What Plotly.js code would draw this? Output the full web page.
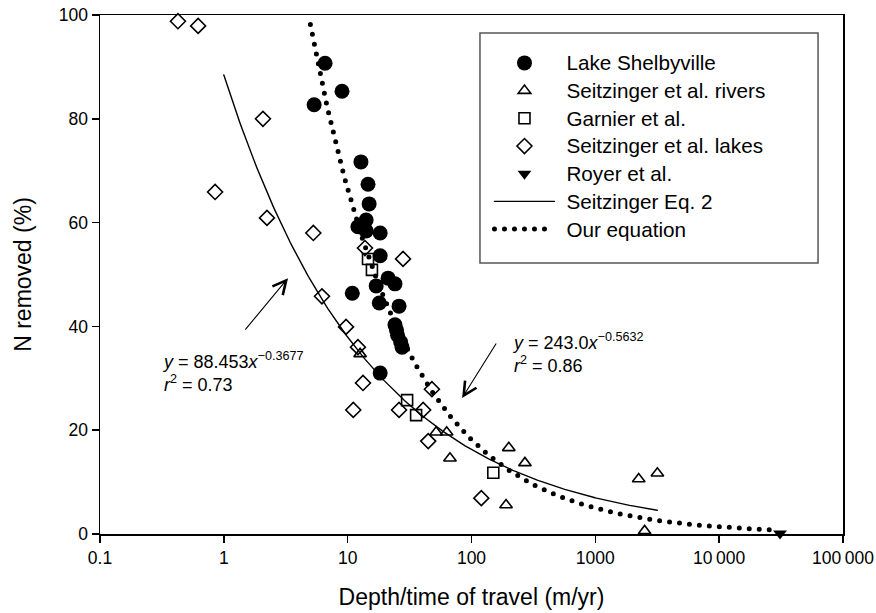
<!DOCTYPE html>
<html><head><meta charset="utf-8">
<script src="https://cdn.plot.ly/plotly-3.0.1.min.js"></script>
<style>
html,body{margin:0;padding:0;background:#fff;}
#chart{width:876px;height:613px;}
path.js-line{stroke-linecap:round;}
.legendtext{font-size:20.7px !important;}
</style></head><body><div id="chart"></div>
<script>
// ---- data ----
const shelbyX = [6.57, 9.0, 5.36, 12.8, 14.6, 14.9, 14.1, 12.1, 14.1, 18.3, 18.3, 21.2, 24.1, 17.0, 10.9, 18.0, 26.0, 24.1, 24.8, 25.3, 26.8, 27.5, 18.3];
const shelbyY = [90.7, 85.3, 82.7, 71.7, 67.4, 63.6, 60.5, 59.2, 58.4, 58.0, 53.6, 49.3, 48.2, 47.8, 46.4, 44.5, 43.9, 40.3, 39.3, 38.3, 37.0, 36.0, 31.0];

const riversX = [12.6, 51.8, 63, 67, 200, 270, 190, 2240, 3170, 2500];
const riversY = [34.7, 19.6, 19.6, 14.6, 16.6, 13.7, 5.6, 10.6, 11.7, 0.6];

const garnierX = [14.6, 15.7, 30.2, 35.7, 150];
const garnierY = [53.0, 50.9, 25.8, 22.9, 11.8];

const lakesX = [0.426, 0.62, 2.07, 0.85, 2.23, 5.28, 6.2, 9.7, 12.1, 13.3, 11.1, 13.8, 28, 26, 47.9, 40.7, 44.7, 120];
const lakesY = [98.8, 97.9, 80.0, 65.9, 60.9, 58.0, 45.8, 39.9, 36.0, 29.1, 23.9, 55.1, 53.0, 23.9, 27.9, 23.9, 17.9, 6.9];

const royerX = [31000];
const royerY = [0.1];

// fitted equations shown on the chart
const seitzA = 88.453, seitzB = -0.3677, seitzRange = [1.0, 3160];
const oursA = 243.0, oursB = -0.5632, oursRange = [5.0, 27000];

const seriesNames = ['Lake Shelbyville', 'Seitzinger et al. rivers', 'Garnier et al.',
  'Seitzinger et al. lakes', 'Royer et al.', 'Seitzinger Eq. 2', 'Our equation'];

function curve(a, b, range, n) {
  const xs = [], ys = [];
  const l0 = Math.log10(range[0]), l1 = Math.log10(range[1]);
  for (let i = 0; i <= n; i++) {
    const x = Math.pow(10, l0 + (l1 - l0) * i / n);
    xs.push(x); ys.push(a * Math.pow(x, b));
  }
  return {x: xs, y: ys};
}
const seitzCurve = curve(seitzA, seitzB, seitzRange, 300);
const oursCurve = curve(oursA, oursB, oursRange, 400);

const tickVals = [0.1, 1, 10, 100, 1000, 10000, 100000];
const tickText = ['0.1', '1', '10', '100', '1000', '10\u2009000', '100\u2009000'];

const FONT = 'Liberation Sans, Arial, Helvetica, sans-serif';
const pad = s => '\u2004' + s;

const traces = [
  {x: seitzCurve.x, y: seitzCurve.y, mode: 'lines', name: pad(seriesNames[5]), legendrank: 6,
   line: {color: '#000', width: 1.4}, hoverinfo: 'skip'},
  {x: oursCurve.x, y: oursCurve.y, mode: 'lines', name: pad(seriesNames[6]), legendrank: 7,
   line: {color: '#000', width: 5, dash: '0px,10px'}, hoverinfo: 'skip'},
  {x: shelbyX, y: shelbyY, mode: 'markers', name: pad(seriesNames[0]), legendrank: 1, cliponaxis: false,
   marker: {symbol: 'circle', size: 15, color: '#000', line: {width: 0}}},
  {x: riversX, y: riversY, mode: 'markers', name: pad(seriesNames[1]), legendrank: 2, cliponaxis: false,
   marker: {symbol: 'triangle-up-open', size: 11, color: '#000', line: {width: 1.6, color: '#000'}}},
  {x: garnierX, y: garnierY, mode: 'markers', name: pad(seriesNames[2]), legendrank: 3, cliponaxis: false,
   marker: {symbol: 'square-open', size: 11, color: '#000', line: {width: 1.6, color: '#000'}}},
  {x: lakesX, y: lakesY, mode: 'markers', name: pad(seriesNames[3]), legendrank: 4, cliponaxis: false,
   marker: {symbol: 'diamond-open', size: 11.5, color: '#000', line: {width: 1.6, color: '#000'}}},
  {x: royerX, y: royerY, mode: 'markers', name: pad(seriesNames[4]), legendrank: 5, cliponaxis: false,
   marker: {symbol: 'triangle-down', size: 12, color: '#000', line: {width: 0}}}
];

const layout = {
  width: 876, height: 613,
  margin: {l: 100, r: 33, t: 15, b: 79},
  paper_bgcolor: '#fff', plot_bgcolor: '#fff',
  font: {family: FONT, color: '#000', size: 17.5},
  showlegend: true,
  legend: {x: 0.5242, y: 0.944, xanchor: 'left', yanchor: 'top',
           bgcolor: 'rgba(0,0,0,0)', borderwidth: 0,
           font: {family: FONT, size: 19, color: '#000'}, itemwidth: 60},
  shapes: [
    {type: 'rect', xref: 'paper', yref: 'paper', x0: 0.5114, x1: 0.9664, y0: 0.5222, y1: 0.9653,
     line: {color: '#555', width: 1.5}, fillcolor: '#fff', layer: 'below'}
  ],
  xaxis: {type: 'log', range: [-1, 5], tickvals: tickVals, ticktext: tickText,
          ticks: 'outside', ticklen: 7, tickwidth: 1.5, tickcolor: '#000',
          showline: true, mirror: true, linecolor: '#000', linewidth: 1.5,
          showgrid: false, zeroline: false,
          tickfont: {family: FONT, size: 17.5, color: '#000'},
          title: {text: 'Depth/time of travel (m/yr)', font: {family: FONT, size: 23, color: '#000'}, standoff: 22}},
  yaxis: {range: [0, 100], dtick: 20, tick0: 0,
          ticks: 'outside', ticklen: 7, tickwidth: 1.5, tickcolor: '#000',
          showline: true, mirror: true, linecolor: '#000', linewidth: 1.5,
          showgrid: false, zeroline: false,
          tickfont: {family: FONT, size: 17.5, color: '#000'},
          title: {text: 'N removed (%)', font: {family: FONT, size: 23, color: '#000'}, standoff: 20}},
  annotations: [
    {x: Math.log10(0.305), y: 31.2, xref: 'x', yref: 'y', xanchor: 'left', yanchor: 'middle', align: 'left',
     showarrow: false, font: {family: FONT, size: 18, color: '#000'},
     text: '<i>y</i> = 88.453<i>x</i><sup>\u22120.3677</sup><br><i>r</i><sup>2</sup> = 0.73'},
    {x: Math.log10(205), y: 34.9, xref: 'x', yref: 'y', xanchor: 'left', yanchor: 'middle', align: 'left',
     showarrow: false, font: {family: FONT, size: 18, color: '#000'},
     text: '<i>y</i> = 243.0<i>x</i><sup>\u22120.5632</sup><br><i>r</i><sup>2</sup> = 0.86'},
    {x: Math.log10(3.30), y: 49.3, xref: 'x', yref: 'y', ax: -44, ay: 53, text: '',
     showarrow: true, arrowhead: 5, arrowsize: 2.4, arrowwidth: 1.1, arrowcolor: '#000'},
    {x: Math.log10(84), y: 26.2, xref: 'x', yref: 'y', ax: 35, ay: -56, text: '',
     showarrow: true, arrowhead: 5, arrowsize: 2.4, arrowwidth: 1.1, arrowcolor: '#000'}
  ]
};

Plotly.newPlot('chart', traces, layout, {staticPlot: true, displayModeBar: false});
</script></body></html>
